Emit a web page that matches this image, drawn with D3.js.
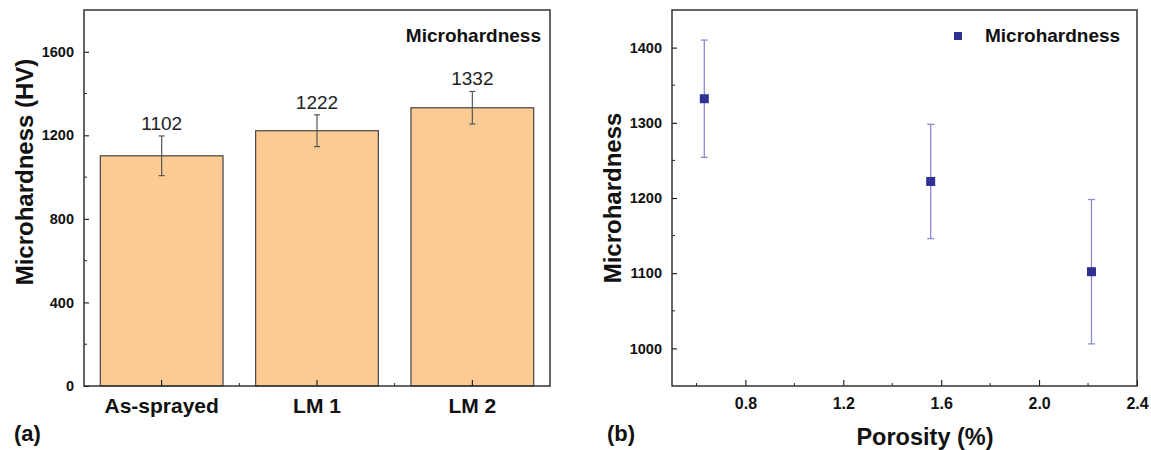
<!DOCTYPE html>
<html>
<head>
<meta charset="utf-8">
<script src="https://cdn.jsdelivr.net/npm/d3@7"></script>
<style>
  body { margin: 0; background: #fff; }
  svg text { font-family: "Liberation Sans", Arial, sans-serif; fill: #111; }
</style>
</head>
<body>
<div id="zone"></div>
<script>
(function() {
  "use strict";

  // panneau (a) : barres
  var categories = ["As-sprayed", "LM 1", "LM 2"];
  var hardness = [1102, 1222, 1332];
  var hardnessErr = [95, 76, 78];
  var yTicksA = [0, 400, 800, 1200, 1600];

  // panneau (b) : porosité vs dureté
  var porosity = [0.632, 1.557, 2.214];
  var hardnessB = [1332, 1222, 1102];
  var hardnessErrB = [78, 76, 96];
  var xTicksB = [0.8, 1.2, 1.6, 2.0, 2.4];
  var yTicksB = [1000, 1100, 1200, 1300, 1400];

  var width = 1151, height = 450;

  var svg = d3.select("#zone").append("svg")
    .attr("width", width)
    .attr("height", height);

  var top = 10, bottom = 386;

  ////////// panneau (a) //////////
  var xA = d3.scaleBand().domain(categories).range([84, 550]).paddingInner(0.21).paddingOuter(0.105);
  var yA = d3.scaleLinear().domain([0, 1800]).range([bottom, top]);

  var gA = svg.append("g");

  gA.selectAll("rect.bar")
    .data(hardness)
    .enter().append("rect")
    .attr("class", "bar")
    .attr("x", function(d, i) { return xA(categories[i]); })
    .attr("y", function(d) { return yA(d); })
    .attr("width", xA.bandwidth())
    .attr("height", function(d) { return yA(0) - yA(d); })
    .attr("fill", "#fbcb93")
    .attr("stroke", "#444")
    .attr("stroke-width", 1.2);

  // barres d'erreur
  var errA = gA.selectAll("g.err").data(hardness).enter().append("g").attr("class", "err")
    .attr("stroke", "#555").attr("stroke-width", 1.2);
  errA.append("line")
    .attr("x1", function(d, i) { return xA(categories[i]) + xA.bandwidth() / 2; })
    .attr("x2", function(d, i) { return xA(categories[i]) + xA.bandwidth() / 2; })
    .attr("y1", function(d, i) { return yA(d + hardnessErr[i]); })
    .attr("y2", function(d, i) { return yA(d - hardnessErr[i]); });
  [1, -1].forEach(function(s) {
    errA.append("line")
      .attr("x1", function(d, i) { return xA(categories[i]) + xA.bandwidth() / 2 - 3; })
      .attr("x2", function(d, i) { return xA(categories[i]) + xA.bandwidth() / 2 + 3; })
      .attr("y1", function(d, i) { return yA(d + s * hardnessErr[i]); })
      .attr("y2", function(d, i) { return yA(d + s * hardnessErr[i]); });
  });

  // valeurs
  gA.selectAll("text.val").data(hardness).enter().append("text")
    .attr("class", "val")
    .attr("x", function(d, i) { return xA(categories[i]) + xA.bandwidth() / 2; })
    .attr("y", function(d, i) { return yA(d + hardnessErr[i]) - 6; })
    .attr("text-anchor", "middle")
    .style("font-size", "19px")
    .style("fill", "#222")
    .text(function(d) { return d; });

  // axes
  var axisYA = d3.axisLeft(yA).tickValues(yTicksA).tickFormat(d3.format("d"))
    .tickSizeInner(-5).tickSizeOuter(0).tickPadding(10);
  var gyA = gA.append("g").attr("transform", "translate(84,0)").call(axisYA);
  gyA.select(".domain").remove();
  gyA.selectAll("text").style("font-size", "14.5px").style("font-weight", "bold");
  var minorA = d3.range(200, 1800, 400);
  gA.selectAll("line.minorA").data(minorA).enter().append("line")
    .attr("x1", 84).attr("x2", 87)
    .attr("y1", function(d) { return yA(d); }).attr("y2", function(d) { return yA(d); })
    .attr("stroke", "#222");

  var axisXA = d3.axisBottom(xA).tickSizeInner(-6).tickSizeOuter(0).tickPadding(12);
  var gxA = gA.append("g").attr("transform", "translate(0," + bottom + ")").call(axisXA);
  gxA.select(".domain").remove();
  gxA.selectAll("text").style("font-size", "21px").style("font-weight", "bold");
  // petites marques entre les catégories
  gA.selectAll("line.sepA").data(categories.slice(1)).enter().append("line")
    .attr("x1", function(d) { return xA(d) - xA.step() * xA.paddingInner() / 2; })
    .attr("x2", function(d) { return xA(d) - xA.step() * xA.paddingInner() / 2; })
    .attr("y1", bottom).attr("y2", bottom - 3)
    .attr("stroke", "#222");

  gA.append("rect")
    .attr("x", 84).attr("y", top).attr("width", 550 - 84).attr("height", bottom - top)
    .attr("fill", "none").attr("stroke", "#333").attr("stroke-width", 1.5);

  gA.append("text").attr("x", 541).attr("y", 42).attr("text-anchor", "end")
    .style("font-size", "19px").style("font-weight", "bold").text("Microhardness");

  gA.append("text")
    .attr("transform", "translate(33," + 172 + ") rotate(-90)")
    .attr("text-anchor", "middle")
    .style("font-size", "24px").style("font-weight", "bold")
    .text("Microhardness (HV)");

  gA.append("text").attr("x", 14).attr("y", 441)
    .style("font-size", "22px").style("font-weight", "bold").text("(a)");

  ////////// panneau (b) //////////
  var xB = d3.scaleLinear().domain([0.5, 2.4]).range([672, 1137]);
  var yB = d3.scaleLinear().domain([950, 1450]).range([bottom, top]);

  var gB = svg.append("g");

  var axisYB = d3.axisLeft(yB).tickValues(yTicksB).tickFormat(d3.format("d"))
    .tickSizeInner(-5).tickSizeOuter(0).tickPadding(10);
  var gyB = gB.append("g").attr("transform", "translate(672,0)").call(axisYB);
  gyB.select(".domain").remove();
  gyB.selectAll("text").style("font-size", "14.5px").style("font-weight", "bold");
  var minorYB = d3.range(1050, 1450, 100);
  gB.selectAll("line.minorYB").data(minorYB).enter().append("line")
    .attr("x1", 672).attr("x2", 675)
    .attr("y1", function(d) { return yB(d); }).attr("y2", function(d) { return yB(d); })
    .attr("stroke", "#222");

  var axisXB = d3.axisBottom(xB).tickValues(xTicksB).tickFormat(d3.format(".1f"))
    .tickSizeInner(-6).tickSizeOuter(0).tickPadding(12);
  var gxB = gB.append("g").attr("transform", "translate(0," + bottom + ")").call(axisXB);
  gxB.select(".domain").remove();
  gxB.selectAll("text").style("font-size", "16px").style("font-weight", "bold");
  var minorXB = [0.6, 1.0, 1.4, 1.8, 2.2];
  gB.selectAll("line.minorXB").data(minorXB).enter().append("line")
    .attr("x1", function(d) { return xB(d); }).attr("x2", function(d) { return xB(d); })
    .attr("y1", bottom).attr("y2", bottom - 3)
    .attr("stroke", "#222");

  gB.append("rect")
    .attr("x", 672).attr("y", top).attr("width", 1137 - 672).attr("height", bottom - top)
    .attr("fill", "none").attr("stroke", "#333").attr("stroke-width", 1.5);

  // barres d'erreur
  var errB = gB.selectAll("g.errB").data(hardnessB).enter().append("g").attr("class", "errB")
    .attr("stroke", "#8a8ad8").attr("stroke-width", 1.3);
  errB.append("line")
    .attr("x1", function(d, i) { return xB(porosity[i]); })
    .attr("x2", function(d, i) { return xB(porosity[i]); })
    .attr("y1", function(d, i) { return yB(d + hardnessErrB[i]); })
    .attr("y2", function(d, i) { return yB(d - hardnessErrB[i]); });
  [1, -1].forEach(function(s) {
    errB.append("line")
      .attr("x1", function(d, i) { return xB(porosity[i]) - 3.5; })
      .attr("x2", function(d, i) { return xB(porosity[i]) + 3.5; })
      .attr("y1", function(d, i) { return yB(d + s * hardnessErrB[i]); })
      .attr("y2", function(d, i) { return yB(d + s * hardnessErrB[i]); });
  });

  gB.selectAll("rect.pt").data(hardnessB).enter().append("rect")
    .attr("class", "pt")
    .attr("x", function(d, i) { return xB(porosity[i]) - 4.5; })
    .attr("y", function(d) { return yB(d) - 4.5; })
    .attr("width", 9).attr("height", 9)
    .attr("fill", "#2e3192");

  // légende
  gB.append("rect").attr("x", 954).attr("y", 32).attr("width", 8).attr("height", 8).attr("fill", "#2e3192");
  gB.append("text").attr("x", 985).attr("y", 42)
    .style("font-size", "19px").style("font-weight", "bold").text("Microhardness");

  gB.append("text")
    .attr("transform", "translate(621," + 198 + ") rotate(-90)")
    .attr("text-anchor", "middle")
    .style("font-size", "24px").style("font-weight", "bold")
    .text("Microhardness");

  gB.append("text").attr("x", 925).attr("y", 445).attr("text-anchor", "middle")
    .style("font-size", "23.5px").style("font-weight", "bold").text("Porosity (%)");

  gB.append("text").attr("x", 607).attr("y", 441)
    .style("font-size", "22px").style("font-weight", "bold").text("(b)");

})();
</script>
</body>
</html>
